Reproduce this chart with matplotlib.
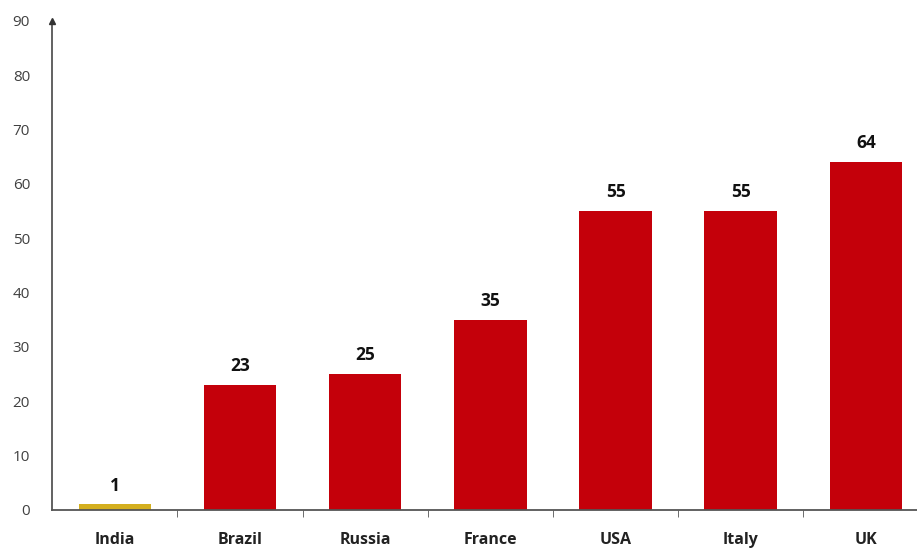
import numpy as np
from matplotlib import pyplot as plt

countries = ["India", "Brazil", "Russia", "France", "USA", "Italy", "UK"]
values = [1, 23, 25, 35, 55, 55, 64]
bar_colors = ["#D4AF1F", "#C4000A", "#C4000A", "#C4000A", "#C4000A", "#C4000A", "#C4000A"]
y_ticks = [0, 10, 20, 30, 40, 50, 60, 70, 80, 90]

plt.rcParams['font.family'] = ['Open Sans', 'DejaVu Sans']

fig = plt.figure(figsize=(9.17, 5.5), dpi=100)
ax = fig.add_axes([0.057, 0.073, 0.95, 0.889])

xs = np.arange(len(countries))
ax.bar(xs, values, width=0.58, color=bar_colors, zorder=2)

for x, v in zip(xs, values):
    ax.annotate(str(v), xy=(x, v), xytext=(0, 7), textcoords='offset points',
                ha='center', va='bottom', fontsize=12.5, fontweight='bold', color='#111111')

ax.set_xlim(-0.5, 6.46)
ax.set_ylim(0, 90)
ax.set_yticks(y_ticks)
ax.tick_params(axis='y', length=0, pad=16, labelsize=11, labelcolor='#404040')
ax.set_xticks(xs)
ax.set_xticklabels(countries, fontsize=11.5, fontweight='bold', color='#222222')
ax.tick_params(axis='x', which='major', length=0, pad=16)
ax.set_xticks(xs[:-1] + 0.5, minor=True)
ax.tick_params(axis='x', which='minor', length=5, direction='out', color='#555555')

for s in ['top', 'right']:
    ax.spines[s].set_visible(False)
ax.spines['left'].set_color('#555555')
ax.spines['left'].set_linewidth(1.3)
ax.spines['bottom'].set_color('#555555')
ax.spines['bottom'].set_linewidth(1.3)
ax.plot([-0.5], [90], marker='^', markersize=5, color='#333333', clip_on=False, zorder=3)

fig.savefig("out.png", dpi=100)
